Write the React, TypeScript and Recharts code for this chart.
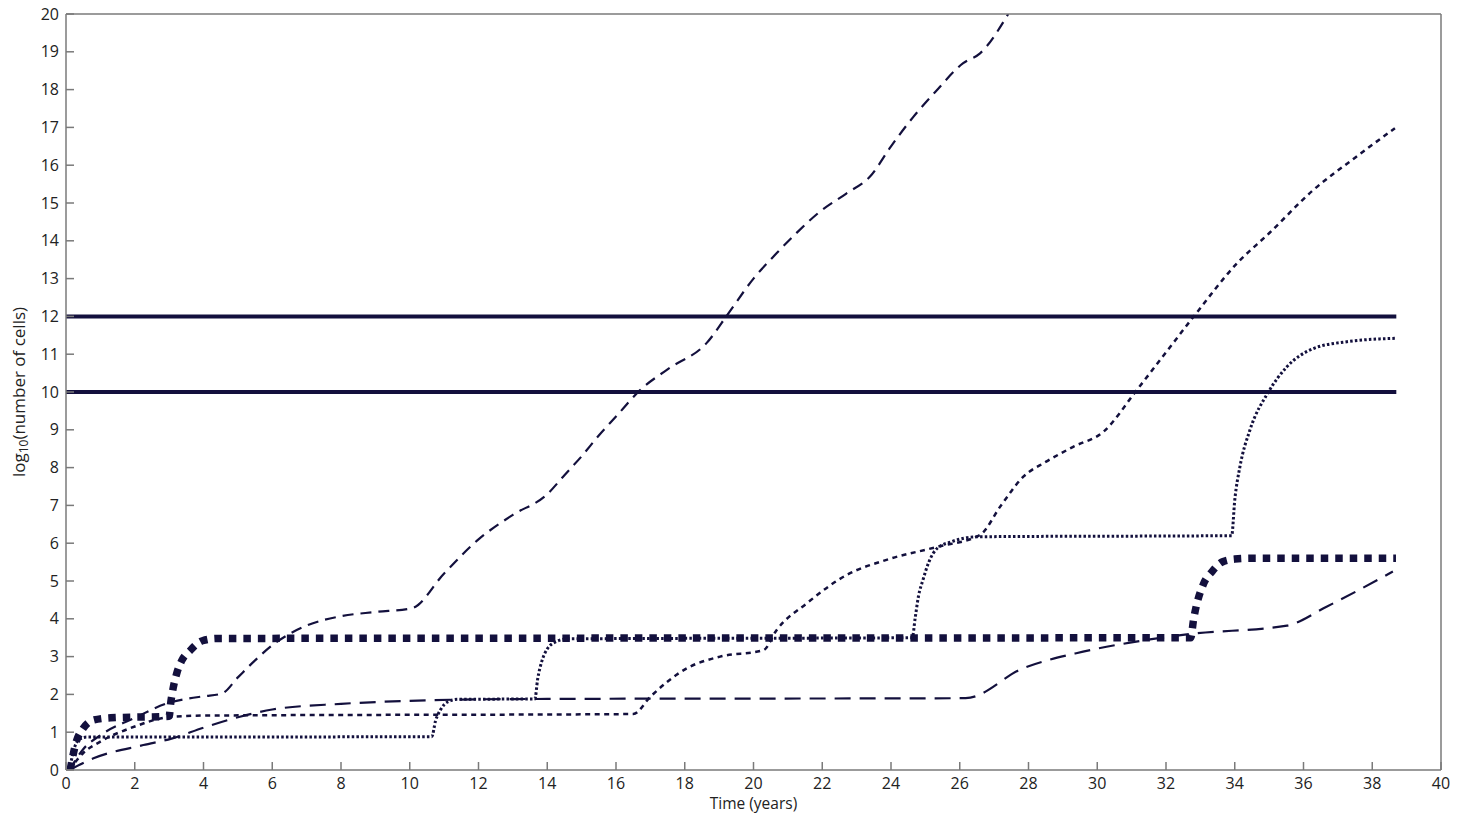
import React from "react";
import { LineChart, Line, XAxis, YAxis, Label } from "recharts";

// ---- tick labels ----
const xTicks = [0, 2, 4, 6, 8, 10, 12, 14, 16, 18, 20, 22, 24, 26, 28, 30, 32, 34, 36, 38, 40];
const yTicks = [0, 1, 2, 3, 4, 5, 6, 7, 8, 9, 10, 11, 12, 13, 14, 15, 16, 17, 18, 19, 20];

// ---- thresholds (solid thick) ----
const thrT = [0, 38.7];
const thr10 = [10, 10];
const thr12 = [12, 12];

// ---- medium dashed ----
const aT = [0.1, 0.5, 1, 2, 3, 3.5, 4, 4.53, 5, 5.5, 6, 6.5, 7, 8, 9, 10.06, 11, 12, 13, 13.98, 14.5, 15, 15.5, 16, 16.7, 17.5, 18.64, 19.27, 20, 20.67, 21.3, 21.93, 22.7, 23.39, 24, 24.65, 25.3, 26.1, 26.59, 27.41];
const aV = [0, 0.55, 0.92, 1.38, 1.78, 1.88, 1.95, 2.02, 2.45, 2.9, 3.3, 3.6, 3.82, 4.07, 4.18, 4.28, 5.2, 6.1, 6.75, 7.28, 7.8, 8.3, 8.85, 9.35, 10.05, 10.6, 11.3, 12.08, 13.0, 13.67, 14.25, 14.77, 15.25, 15.7, 16.5, 17.28, 17.95, 18.7, 18.96, 20];

// ---- short dashed ----
const bT = [0.1, 0.5, 1, 2, 3, 4, 16.5, 17, 18.06, 19.03, 20.29, 20.67, 21.55, 22.71, 23.87, 25.33, 26.59, 27.2, 27.85, 28.5, 29.3, 30.18, 31.15, 32, 32.8, 34.06, 35, 36.28, 37.5, 38.66];
const bV = [0, 0.45, 0.75, 1.15, 1.4, 1.44, 1.48, 1.94, 2.69, 3.0, 3.17, 3.7, 4.41, 5.16, 5.56, 5.9, 6.22, 7.0, 7.76, 8.15, 8.55, 8.95, 10.05, 11.05, 11.99, 13.4, 14.2, 15.34, 16.2, 16.98];

// ---- long dashed ----
const cT = [0.1, 0.8, 2.25, 3.07, 4, 5.06, 6, 8, 10, 12, 14, 26.17, 27.84, 29.39, 30.95, 32.72, 35.52, 36.67, 38.6];
const cV = [0, 0.31, 0.66, 0.83, 1.12, 1.41, 1.6, 1.75, 1.83, 1.87, 1.88, 1.9, 2.69, 3.09, 3.37, 3.6, 3.82, 4.32, 5.25];

// ---- thick square dots ----
const dT = [0.12, 0.3, 0.5, 0.8, 1.3, 3.0, 3.05, 3.12, 3.22, 3.37, 3.6, 3.97, 4.4, 32.72, 32.8, 33.08, 33.34, 33.65, 34.0, 34.5, 38.69];
const dV = [0, 0.75, 1.1, 1.32, 1.38, 1.42, 1.8, 2.18, 2.55, 2.9, 3.15, 3.42, 3.48, 3.5, 3.97, 4.9, 5.25, 5.51, 5.58, 5.6, 5.6];

// ---- thin dotted ----
const eT = [0.1, 0.25, 0.4, 0.6, 10.64, 10.75, 10.9, 11.1, 11.4, 13.64, 13.72, 13.85, 14.0, 14.2, 14.6, 24.62, 24.7, 24.8, 24.93, 25.1, 25.34, 25.76, 26.5, 33.91, 34.0, 34.15, 34.44, 34.98, 35.51, 36.29, 37.26, 38.66];
const eV = [0, 0.6, 0.82, 0.87, 0.88, 1.3, 1.6, 1.8, 1.87, 1.88, 2.4, 2.9, 3.2, 3.37, 3.47, 3.5, 4.0, 4.6, 5.03, 5.5, 5.86, 6.04, 6.17, 6.2, 7.14, 8.02, 8.99, 10.0, 10.66, 11.15, 11.33, 11.42];

const zip = (t: number[], v: number[]) => t.map((x, i) => ({ t: x, v: v[i] }));

const INK = "#13103d";
const AXIS = "#7a7a7a";
const FONT = "'Open Sans', 'Noto Sans', sans-serif";

const YLabel = (props: any) => {
  const vb = props.viewBox || { x: 0, y: 0, width: 0, height: 0 };
  const cx = vb.x + 18;
  const cy = vb.y + vb.height / 2;
  return (
    <text
      x={cx}
      y={cy}
      transform={`rotate(-90, ${cx}, ${cy})`}
      textAnchor="middle"
      dominantBaseline="central"
      fontFamily={FONT}
      fontSize={17}
      fill="#222"
    >
      log
      <tspan fontSize={12} dy={5}>10</tspan>
      <tspan dy={-5}>(number of cells)</tspan>
    </text>
  );
};

const XLabel = (props: any) => {
  const vb = props.viewBox || { x: 0, y: 0, width: 0, height: 0 };
  return (
    <text
      x={vb.x + vb.width / 2}
      y={vb.y + 33}
      textAnchor="middle"
      dominantBaseline="central"
      fontFamily={FONT}
      fontSize={15.5}
      fill="#222"
    >
      Time (years)
    </text>
  );
};

export default function App() {
  const tickStyle = { fontFamily: FONT, fontSize: 16, fill: "#222" };
  const common = {
    dot: false,
    activeDot: false,
    isAnimationActive: false,
    xAxisId: "x",
    yAxisId: "y",
    dataKey: "v",
    stroke: INK,
  } as const;
  return (
    <div style={{ width: 1464, height: 814, margin: "-8px 0 0 -8px" }}>
      <LineChart width={1464} height={814} margin={{ top: 13, right: 22, bottom: 6, left: 0 }}>
        <XAxis
          xAxisId="x"
          type="number"
          dataKey="t"
          domain={[0, 40]}
          ticks={xTicks}
          interval={0}
          allowDataOverflow
          height={38}
          tickSize={-8}
          tickMargin={16}
          stroke={AXIS}
          strokeWidth={1.5}
          tick={tickStyle}
        >
          <Label content={XLabel} />
        </XAxis>
        <XAxis
          xAxisId="top"
          orientation="top"
          type="number"
          dataKey="t"
          domain={[0, 40]}
          ticks={xTicks}
          interval={0}
          allowDataOverflow
          height={1}
          tickSize={-8}
          tick={false}
          stroke={AXIS}
          strokeWidth={1.5}
        />
        <YAxis
          yAxisId="y"
          type="number"
          domain={[0, 20]}
          ticks={yTicks}
          interval={0}
          allowDataOverflow
          width={66}
          tickSize={-8}
          tickMargin={15}
          stroke={AXIS}
          strokeWidth={1.5}
          tick={tickStyle}
        >
          <Label content={YLabel} />
        </YAxis>
        <YAxis
          yAxisId="right"
          orientation="right"
          type="number"
          domain={[0, 20]}
          ticks={yTicks}
          interval={0}
          allowDataOverflow
          width={1}
          tickSize={-8}
          tick={false}
          stroke={AXIS}
          strokeWidth={1.5}
        />
        <Line {...common} data={zip(thrT, thr12)} type="linear" strokeWidth={4} />
        <Line {...common} data={zip(thrT, thr10)} type="linear" strokeWidth={4} />
        <Line {...common} data={zip(cT, cV)} type="monotone" strokeWidth={2.2} strokeDasharray="16 9" />
        <Line {...common} data={zip(aT, aV)} type="monotone" strokeWidth={2.2} strokeDasharray="11 7" />
        <Line {...common} data={zip(bT, bV)} type="monotone" strokeWidth={2.5} strokeDasharray="5 4.5" />
        <Line {...common} data={zip(dT, dV)} type="monotone" strokeWidth={7.5} strokeDasharray="7.5 7" />
        <Line {...common} data={zip(eT, eV)} type="monotone" strokeWidth={3} strokeDasharray="2.5 2.2" />
      </LineChart>
    </div>
  );
}
